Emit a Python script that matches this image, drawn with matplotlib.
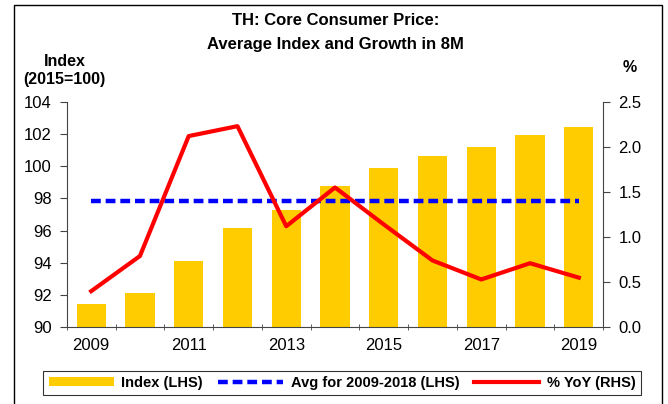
import numpy as np
import matplotlib
matplotlib.use("Agg")
import matplotlib.pyplot as plt
from matplotlib.patches import Rectangle

# ── Data ─────────────────────────────────────────────────────────────────────
years = ["2009", "2010", "2011", "2012", "2013", "2014",
         "2015", "2016", "2017", "2018", "2019"]
index_vals = [91.42, 92.13, 94.10, 96.18, 97.29, 98.80,
              99.90, 100.66, 101.18, 101.91, 102.45]
avg_2009_2018 = 97.81
yoy_vals = [0.40, 0.79, 2.12, 2.23, 1.12, 1.55,
            1.14, 0.74, 0.53, 0.71, 0.55]
xtick_labels = ["2009", "", "2011", "", "2013", "", "2015", "", "2017", "", "2019"]

# ── Style ────────────────────────────────────────────────────────────────────
plt.rcParams.update({
    "font.family": "Liberation Sans",
    "font.size": 12,
})

fig = plt.figure(figsize=(6.68, 4.04), dpi=100)
ax = fig.add_axes([0.100, 0.190, 0.803, 0.558])
ax2 = ax.twinx()

x = np.arange(len(years))
bars = ax.bar(x, index_vals, width=0.6, color="#FFCC00", zorder=2, label="Index (LHS)")
avg_line, = ax.plot(x, [avg_2009_2018] * len(x), color="#0000FF", lw=3.2,
                    dashes=(2.2, 1.1), zorder=3, label="Avg for 2009-2018 (LHS)")
yoy_line, = ax2.plot(x, yoy_vals, color="#FF0000", lw=3.0, zorder=4, label="% YoY (RHS)")

ax.set_xlim(-0.5, len(x) - 0.5)
ax.set_ylim(90, 104)
ax.set_yticks(np.arange(90, 105, 2))
ax2.set_ylim(0, 2.5)
ax2.set_yticks(np.arange(0, 2.51, 0.5))
ax2.set_yticklabels([f"{v:.1f}" for v in np.arange(0, 2.51, 0.5)])

# category labels at centres, tick marks at boundaries
ax.set_xticks(x)
ax.set_xticklabels(xtick_labels)
ax.tick_params(axis="x", length=0, pad=8)
ax.set_xticks(np.arange(-0.5, len(x), 1), minor=True)
ax.tick_params(axis="x", which="minor", length=5, direction="inout", color="#444444")
ax.tick_params(axis="y", length=5, color="#444444", pad=6)
ax2.tick_params(axis="y", length=5, color="#444444", pad=6)

for a in (ax, ax2):
    a.spines["top"].set_visible(False)
    for s in ("left", "right", "bottom"):
        a.spines[s].set_color("#444444")
ax.spines["right"].set_visible(False)
ax2.spines["left"].set_visible(False)
ax2.spines["bottom"].set_visible(False)

# ── Titles / axis captions ───────────────────────────────────────────────────
fig.text(0.502, 0.950, "TH: Core Consumer Price:", ha="center", va="center",
         fontsize=12, fontweight="bold")
fig.text(0.502, 0.891, "Average Index and Growth in 8M", ha="center", va="center",
         fontsize=12, fontweight="bold")
fig.text(0.097, 0.847, "Index", ha="center", va="center", fontsize=11.5, fontweight="bold")
fig.text(0.097, 0.802, "(2015=100)", ha="center", va="center", fontsize=11.5, fontweight="bold")
fig.text(0.943, 0.832, "%", ha="center", va="center", fontsize=11.5, fontweight="bold")

# ── Legend ───────────────────────────────────────────────────────────────────
leg = fig.legend([bars, avg_line, yoy_line],
                 ["Index (LHS)", "Avg for 2009-2018 (LHS)", "% YoY (RHS)"],
                 loc="center", bbox_to_anchor=(0.512, 0.052),
                 ncol=3, frameon=True, fancybox=False, edgecolor="black",
                 prop={"weight": "bold", "size": 10.5}, handlelength=4.5,
                 handleheight=0.6, columnspacing=1.0, handletextpad=0.5,
                 borderpad=0.35)
leg.get_frame().set_linewidth(0.8)

# outer frame
fig.add_artist(Rectangle((0.021, -0.02), 0.970, 1.008, transform=fig.transFigure,
                         fill=False, edgecolor="black", lw=1.0))

fig.savefig("out.png", dpi=100)
